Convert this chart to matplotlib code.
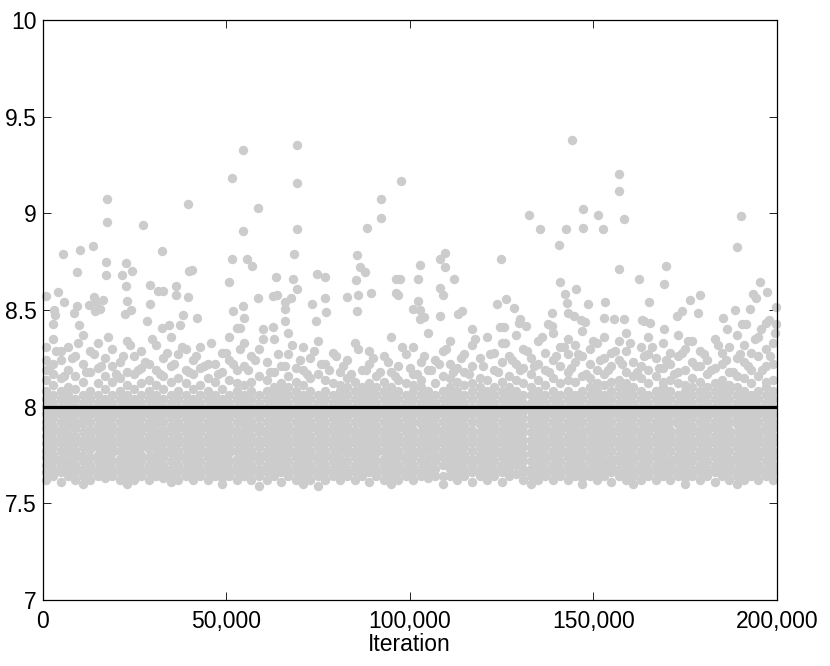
import matplotlib
matplotlib.use("Agg")
import matplotlib.pyplot as plt
from matplotlib.ticker import FuncFormatter

plt.rcParams['font.family'] = ['Liberation Sans', 'DejaVu Sans']

# ---- data (iterations in thousands for the dense columns) ----
col_x_k = [0.9, 2.9, 5.0, 7.0, 8.9, 10.9, 13.0, 15.0, 16.9, 18.9,
           21.0, 23.0, 24.9, 26.9, 29.0, 31.0, 32.9, 34.9, 37.0, 39.0,
           40.9, 42.9, 45.0, 47.0, 48.9, 50.9, 53.0, 55.0, 56.9, 58.9,
           61.0, 63.0, 64.9, 66.9, 69.0, 71.0, 72.9, 74.9, 77.0, 79.0,
           80.9, 82.9, 85.0, 87.0, 88.9, 90.9, 93.0, 95.0, 96.9, 98.9,
           101.0, 103.0, 104.9, 106.9, 109.0, 111.0, 112.9, 114.9, 117.0, 119.0,
           120.9, 122.9, 125.0, 127.0, 128.9, 130.9, 133.0, 135.0, 136.9, 138.9,
           141.0, 143.0, 144.9, 146.9, 149.0, 151.0, 152.9, 154.9, 157.0, 159.0,
           160.9, 162.9, 165.0, 167.0, 168.9, 170.9, 173.0, 175.0, 176.9, 178.9,
           181.0, 183.0, 184.9, 186.9, 189.0, 191.0, 192.9, 194.9, 197.0, 199.0]

col_y = [
    [7.62,7.66,7.70,7.74,7.77,7.81,7.85,7.89,7.92,7.96,8.00,8.04,8.08,8.14,8.19,8.24,8.31],
    [7.64,7.68,7.72,7.75,7.79,7.83,7.87,7.90,7.94,7.98,8.02,8.06,8.11,8.17,8.22,8.35],
    [7.61,7.66,7.70,7.73,7.77,7.81,7.85,7.88,7.92,7.96,8.00,8.04,8.08,8.15,8.24,8.29],
    [7.64,7.68,7.72,7.76,7.79,7.83,7.86,7.90,7.94,7.98,8.02,8.06,8.10,8.19,8.31],
    [7.62,7.66,7.70,7.74,7.77,7.81,7.85,7.89,7.92,7.96,8.00,8.04,8.09,8.16,8.26],
    [7.60,7.64,7.68,7.72,7.75,7.79,7.83,7.87,7.91,7.94,7.98,8.02,8.06,8.13,8.22,8.37],
    [7.62,7.66,7.70,7.74,7.78,7.81,7.85,7.88,7.92,7.96,8.00,8.04,8.08,8.18,8.29],
    [7.64,7.68,7.72,7.75,7.79,7.83,7.87,7.90,7.94,7.98,8.02,8.06,8.12,8.20,8.33],
    [7.63,7.66,7.70,7.74,7.77,7.81,7.85,7.89,7.92,7.96,8.00,8.04,8.09,8.16,8.25],
    [7.64,7.68,7.72,7.76,7.79,7.83,7.87,7.90,7.94,7.98,8.02,8.06,8.13,8.21,8.30],
    [7.62,7.66,7.70,7.73,7.77,7.81,7.85,7.88,7.92,7.96,8.00,8.04,8.08,8.15,8.23],
    [7.60,7.64,7.68,7.72,7.75,7.79,7.83,7.87,7.90,7.94,7.98,8.02,8.06,8.11,8.18,8.34],
    [7.62,7.66,7.70,7.74,7.77,7.81,7.85,7.89,7.92,7.96,8.00,8.04,8.09,8.17,8.26],
    [7.64,7.68,7.72,7.75,7.79,7.83,7.87,7.90,7.94,7.98,8.02,8.06,8.12,8.20,8.29],
    [7.62,7.66,7.70,7.74,7.78,7.81,7.85,7.89,7.92,7.96,8.00,8.04,8.08,8.14,8.22],
    [7.64,7.68,7.72,7.75,7.79,7.83,7.87,7.91,7.94,7.98,8.02,8.06,8.11,8.19,8.32],
    [7.63,7.66,7.70,7.74,7.77,7.81,7.85,7.88,7.92,7.96,8.00,8.04,8.09,8.16,8.25],
    [7.61,7.64,7.68,7.72,7.76,7.79,7.83,7.87,7.90,7.94,7.98,8.02,8.06,8.13,8.21,8.36],
    [7.62,7.66,7.70,7.74,7.77,7.81,7.85,7.89,7.92,7.96,8.00,8.04,8.08,8.15,8.27],
    [7.64,7.68,7.72,7.75,7.79,7.83,7.87,7.90,7.94,7.98,8.02,8.06,8.12,8.19,8.30],
    [7.62,7.66,7.70,7.74,7.77,7.81,7.85,7.88,7.92,7.96,8.00,8.04,8.09,8.17,8.24],
    [7.64,7.68,7.72,7.76,7.79,7.83,7.87,7.90,7.94,7.98,8.02,8.06,8.11,8.20,8.31],
    [7.62,7.66,7.70,7.74,7.77,7.81,7.85,7.89,7.92,7.96,8.00,8.04,8.08,8.15,8.22],
    [7.64,7.68,7.72,7.75,7.79,7.83,7.87,7.90,7.94,7.98,8.02,8.06,8.13,8.22],
    [7.60,7.63,7.66,7.70,7.74,7.77,7.81,7.85,7.89,7.92,7.96,8.00,8.04,8.09,8.18,8.28],
    [7.64,7.68,7.72,7.76,7.79,7.83,7.87,7.90,7.94,7.98,8.02,8.06,8.14,8.24,8.36],
    [7.62,7.66,7.70,7.73,7.77,7.81,7.85,7.88,7.92,7.96,8.00,8.04,8.08,8.12,8.19],
    [7.64,7.68,7.72,7.75,7.79,7.83,7.87,7.91,7.94,7.98,8.02,8.06,8.11,8.21,8.33],
    [7.62,7.66,7.70,7.74,7.77,7.81,7.85,7.89,7.92,7.96,8.00,8.04,8.08,8.13,8.26],
    [7.59,7.64,7.68,7.72,7.75,7.79,7.83,7.87,7.90,7.94,7.98,8.02,8.06,8.16,8.30],
    [7.62,7.66,7.70,7.74,7.77,7.81,7.85,7.88,7.92,7.96,8.00,8.04,8.08,8.14,8.23],
    [7.64,7.68,7.72,7.75,7.79,7.83,7.87,7.90,7.94,7.98,8.02,8.06,8.10,8.18,8.35],
    [7.61,7.66,7.70,7.74,7.77,7.81,7.85,7.89,7.92,7.96,8.00,8.04,8.08,8.12,8.21],
    [7.64,7.68,7.72,7.76,7.79,7.83,7.87,7.90,7.94,7.98,8.02,8.06,8.10,8.16,8.27,8.38],
    [7.62,7.66,7.70,7.74,7.77,7.81,7.85,7.88,7.92,7.96,8.00,8.04,8.08,8.13,8.20],
    [7.60,7.64,7.68,7.72,7.75,7.79,7.83,7.87,7.90,7.94,7.98,8.02,8.06,8.11,8.19,8.31],
    [7.62,7.66,7.70,7.74,7.77,7.81,7.85,7.89,7.92,7.96,8.00,8.04,8.08,8.15,8.25],
    [7.59,7.64,7.68,7.72,7.75,7.79,7.83,7.87,7.90,7.94,7.98,8.02,8.06,8.17,8.34],
    [7.62,7.66,7.70,7.74,7.77,7.81,7.85,7.88,7.92,7.96,8.00,8.04,8.08,8.14,8.22],
    [7.64,7.68,7.72,7.75,7.79,7.83,7.87,7.90,7.94,7.98,8.02,8.06,8.12,8.28],
    [7.62,7.66,7.70,7.73,7.77,7.81,7.85,7.89,7.92,7.96,8.00,8.04,8.08,8.11,8.18],
    [7.64,7.68,7.72,7.76,7.79,7.83,7.87,7.90,7.94,7.98,8.02,8.06,8.10,8.15,8.24],
    [7.62,7.66,7.70,7.74,7.77,7.81,7.85,7.88,7.92,7.96,8.00,8.04,8.08,8.13,8.33],
    [7.64,7.68,7.72,7.75,7.79,7.83,7.87,7.91,7.94,7.98,8.02,8.06,8.10,8.19],
    [7.61,7.66,7.70,7.74,7.77,7.81,7.85,7.89,7.92,7.96,8.00,8.04,8.08,8.12,8.22,8.29],
    [7.64,7.68,7.72,7.76,7.79,7.83,7.87,7.90,7.94,7.98,8.02,8.06,8.10,8.16],
    [7.62,7.66,7.70,7.73,7.77,7.81,7.85,7.88,7.92,7.96,8.00,8.04,8.08,8.13,8.26],
    [7.60,7.64,7.68,7.72,7.75,7.79,7.83,7.87,7.90,7.94,7.98,8.02,8.06,8.10,8.18,8.36],
    [7.62,7.66,7.70,7.74,7.77,7.81,7.85,7.89,7.92,7.96,8.00,8.04,8.08,8.14,8.21],
    [7.64,7.68,7.72,7.75,7.79,7.83,7.87,7.90,7.94,7.98,8.02,8.06,8.12,8.27],
    [7.62,7.66,7.70,7.74,7.77,7.81,7.85,7.88,7.92,7.96,8.00,8.04,8.08,8.11,8.17,8.31],
    [7.64,7.68,7.72,7.76,7.79,7.83,7.87,7.91,7.94,7.98,8.02,8.06,8.10,8.14,8.23],
    [7.63,7.66,7.70,7.73,7.77,7.81,7.85,7.89,7.92,7.96,8.00,8.04,8.08,8.19,8.38],
    [7.64,7.68,7.72,7.75,7.79,7.83,7.87,7.90,7.94,7.98,8.02,8.06,8.12,8.24],
    [7.60,7.64,7.70,7.74,7.77,7.81,7.85,7.88,7.92,7.96,8.00,8.04,8.08,8.16,8.29],
    [7.64,7.68,7.72,7.76,7.79,7.83,7.87,7.90,7.94,7.98,8.02,8.06,8.10,8.15,8.22,8.34],
    [7.62,7.66,7.70,7.74,7.77,7.81,7.85,7.89,7.92,7.96,8.00,8.04,8.08,8.13,8.20],
    [7.64,7.68,7.72,7.75,7.79,7.83,7.87,7.90,7.94,7.98,8.02,8.06,8.11,8.18,8.27],
    [7.61,7.66,7.70,7.73,7.77,7.81,7.85,7.88,7.92,7.96,8.00,8.04,8.08,8.12,8.21,8.32],
    [7.64,7.68,7.72,7.75,7.79,7.83,7.87,7.91,7.94,7.98,8.02,8.06,8.10,8.15,8.25],
    [7.62,7.66,7.70,7.74,7.77,7.81,7.85,7.89,7.92,7.96,8.00,8.04,8.08,8.14,8.36],
    [7.64,7.68,7.72,7.76,7.79,7.83,7.87,7.90,7.94,7.98,8.02,8.06,8.10,8.19,8.28],
    [7.61,7.66,7.70,7.74,7.77,7.81,7.85,7.88,7.92,7.96,8.00,8.04,8.08,8.13,8.23,8.33],
    [7.64,7.68,7.72,7.75,7.79,7.83,7.87,7.90,7.94,7.98,8.02,8.06,8.10,8.16,8.26],
    [7.65,7.70,7.74,7.77,7.81,7.85,7.89,7.92,7.96,8.00,8.04,8.08,8.14,8.22,8.37],
    [7.62,7.66,7.68,7.72,7.75,7.79,7.83,7.87,7.90,7.94,7.98,8.02,8.06,8.12,8.20,8.30],
    [7.60,7.64,7.68,7.72,7.76,7.79,7.83,7.87,7.91,7.94,7.98,8.02,8.06,8.10,8.17,8.25],
    [7.62,7.66,7.70,7.74,7.77,7.81,7.85,7.89,7.92,7.96,8.00,8.04,8.08,8.14,8.22,8.34],
    [7.64,7.68,7.72,7.75,7.79,7.83,7.87,7.90,7.94,7.98,8.02,8.06,8.11,8.19,8.28],
    [7.62,7.66,7.70,7.74,7.77,7.81,7.85,7.88,7.92,7.96,8.00,8.04,8.08,8.15,8.24,8.38],
    [7.64,7.68,7.72,7.76,7.79,7.83,7.87,7.90,7.94,7.98,8.02,8.06,8.12,8.21,8.31],
    [7.62,7.66,7.70,7.74,7.77,7.81,7.85,7.89,7.92,7.96,8.00,8.04,8.08,8.14,8.18,8.27,8.35],
    [7.64,7.68,7.72,7.75,7.79,7.83,7.87,7.91,7.94,7.98,8.02,8.06,8.13,8.23,8.32],
    [7.60,7.63,7.66,7.70,7.74,7.77,7.81,7.85,7.88,7.92,7.96,8.00,8.04,8.08,8.16,8.26,8.39],
    [7.64,7.68,7.72,7.75,7.79,7.83,7.87,7.90,7.94,7.98,8.02,8.06,8.10,8.15,8.22,8.30],
    [7.62,7.66,7.70,7.74,7.77,7.81,7.85,7.89,7.92,7.96,8.00,8.04,8.08,8.12,8.19,8.33],
    [7.64,7.68,7.72,7.76,7.79,7.83,7.87,7.90,7.94,7.98,8.02,8.06,8.11,8.17,8.25,8.36],
    [7.61,7.66,7.70,7.73,7.77,7.81,7.85,7.88,7.92,7.96,8.00,8.04,8.08,8.13,8.21,8.28],
    [7.64,7.68,7.72,7.75,7.79,7.83,7.87,7.90,7.94,7.98,8.02,8.06,8.10,8.14,8.24,8.34],
    [7.62,7.66,7.70,7.74,7.77,7.81,7.85,7.89,7.92,7.96,8.00,8.04,8.08,8.12,8.18,8.29,8.38],
    [7.60,7.64,7.68,7.72,7.75,7.79,7.83,7.87,7.90,7.94,7.98,8.02,8.06,8.10,8.16,8.23],
    [7.62,7.66,7.70,7.74,7.77,7.81,7.85,7.88,7.92,7.96,8.00,8.04,8.08,8.15,8.21,8.31],
    [7.64,7.68,7.72,7.75,7.79,7.83,7.87,7.90,7.94,7.98,8.02,8.06,8.12,8.19,8.27,8.36],
    [7.62,7.66,7.70,7.74,7.77,7.81,7.85,7.89,7.92,7.96,8.00,8.04,8.08,8.16,8.25],
    [7.64,7.68,7.72,7.76,7.79,7.83,7.87,7.90,7.94,7.98,8.02,8.06,8.10,8.13,8.20,8.33],
    [7.62,7.66,7.70,7.73,7.77,7.81,7.85,7.88,7.92,7.96,8.00,8.04,8.08,8.14,8.22,8.28],
    [7.64,7.68,7.72,7.75,7.79,7.83,7.87,7.91,7.94,7.98,8.02,8.06,8.12,8.18,8.26,8.37],
    [7.60,7.63,7.66,7.70,7.74,7.77,7.81,7.85,7.89,7.92,7.96,8.00,8.04,8.08,8.11,8.19,8.30],
    [7.64,7.68,7.72,7.75,7.79,7.83,7.87,7.90,7.94,7.98,8.02,8.06,8.10,8.15,8.23,8.34],
    [7.62,7.66,7.70,7.74,7.77,7.81,7.85,7.88,7.92,7.96,8.00,8.04,8.08,8.13,8.21,8.29],
    [7.64,7.68,7.72,7.76,7.79,7.83,7.87,7.90,7.94,7.98,8.02,8.06,8.10,8.17,8.24],
    [7.61,7.66,7.70,7.74,7.77,7.81,7.85,7.89,7.92,7.96,8.00,8.04,8.08,8.12,8.20,8.35],
    [7.64,7.68,7.72,7.75,7.79,7.83,7.87,7.90,7.94,7.98,8.02,8.06,8.10,8.14,8.22,8.28],
    [7.62,7.66,7.70,7.73,7.77,7.81,7.85,7.88,7.92,7.96,8.00,8.04,8.08,8.11,8.18,8.31],
    [7.60,7.64,7.68,7.72,7.75,7.79,7.83,7.87,7.91,7.94,7.98,8.02,8.06,8.10,8.16,8.25,8.37],
    [7.62,7.66,7.70,7.74,7.77,7.81,7.85,7.89,7.92,7.96,8.00,8.04,8.08,8.15,8.23,8.32],
    [7.64,7.68,7.72,7.75,7.79,7.83,7.87,7.90,7.94,7.98,8.02,8.06,8.12,8.19,8.28],
    [7.62,7.66,7.70,7.74,7.77,7.81,7.85,7.88,7.92,7.96,8.00,8.04,8.08,8.16,8.26,8.36],
    [7.64,7.68,7.72,7.76,7.79,7.83,7.87,7.90,7.94,7.98,8.02,8.06,8.10,8.13,8.21,8.30],
    [7.62,7.66,7.70,7.74,7.77,7.81,7.85,7.89,7.92,7.96,8.00,8.04,8.08,8.14,8.22,8.33],
]

# extra scattered samples just above the target (iteration in thousands, value)
mid_x_k = [1.9, 3.8, 5.9, 8.0, 9.8, 11.9, 14.0, 15.9, 17.9, 19.9,
           22.0, 23.9, 25.9, 28.0, 29.9, 31.9, 34.0, 35.9, 37.9, 40.0,
           41.9, 44.0, 46.0, 47.9, 49.9, 52.0, 53.9, 56.0, 57.9, 60.0,
           61.9, 64.0, 65.9, 68.0, 70.0, 71.9, 74.0, 75.9, 78.0, 80.0,
           81.9, 84.0, 85.9, 88.0, 89.9, 92.0, 94.0, 95.9, 98.0, 100.0,
           101.9, 104.0, 105.9, 108.0, 110.0, 111.9, 114.0, 116.0, 117.9, 120.0,
           121.9, 124.0, 126.0, 127.9, 130.0, 132.0, 133.9, 136.0, 138.0, 139.9,
           142.0, 144.0, 145.9, 148.0, 150.0, 151.9, 154.0, 156.0, 157.9, 160.0,
           162.0, 163.9, 166.0, 168.0, 169.9, 172.0, 174.0, 175.9, 178.0, 180.0,
           181.9, 184.0, 186.0, 187.9, 190.0, 192.0, 193.9, 196.0, 198.0, 199.5]
mid_val = [8.20, 8.29, 8.16, 8.25, 8.33, 8.18, 8.27, 8.21, 8.36, 8.17,
           8.26, 8.32, 8.19, 8.23, 8.35, 8.17, 8.28, 8.22, 8.31, 8.18,
           8.26, 8.21, 8.33, 8.17, 8.28, 8.22, 8.30, 8.19, 8.24, 8.35,
           8.18, 8.27, 8.21, 8.32, 8.24, 8.17, 8.29, 8.22, 8.19, 8.26,
           8.21, 8.17, 8.30, 8.19, 8.25, 8.18, 8.23, 8.16, 8.31, 8.20,
           8.17, 8.26, 8.19, 8.22, 8.30, 8.18, 8.25, 8.17, 8.35, 8.21,
           8.27, 8.18, 8.33, 8.24, 8.19, 8.29, 8.21, 8.36, 8.18, 8.26,
           8.31, 8.20, 8.27, 8.17, 8.34, 8.24, 8.19, 8.29, 8.22, 8.33,
           8.18, 8.26, 8.31, 8.20, 8.24, 8.17, 8.28, 8.34, 8.21, 8.27,
           8.19, 8.32, 8.24, 8.18, 8.27, 8.21, 8.35, 8.19, 8.26, 8.38]

# sparse high samples (iteration, value)
high_iter = [17660, 39650, 17660, 27300, 13680, 10300, 32560, 5590, 17220, 22750,
             9490, 17220, 21660, 24300, 39840, 950, 4220, 5860, 9490, 8500,
             12590, 14120, 14580, 16570, 14390, 15670, 22840, 22940, 22570, 24040,
             29290, 29290, 31560, 32920, 36300, 36460, 39650, 38290, 28560, 3130,
             3490, 2940, 10030, 34550, 37470, 32650,
             54720, 69270, 51720, 69270, 58810, 54720, 69430, 68450, 51640, 55640,
             57000, 40740, 50820, 63630, 68260, 74720, 76980, 69430, 58720, 62890,
             63800, 67800, 66000, 66080, 73360, 76980, 77070, 54720, 54900, 51910,
             42100, 66160, 74450, 52920, 53820, 60170, 62890,
             97690, 92160, 92160, 88430, 85700, 86520, 87690, 85430, 82890, 85790,
             89430, 85620, 96140, 97230, 96140, 96870, 102870, 102240, 109490, 108240,
             109600, 111950, 108240, 108950, 102240, 100880, 102680, 102680, 103960, 108320,
             113030, 114120, 116960,
             144290, 157000, 157000, 147100, 132570, 151370, 158450, 135570, 142460, 147200,
             152550, 140750, 124860, 157000, 162550, 141020, 145300, 142380, 123770, 126120,
             128480, 142830, 148450, 153090, 138840, 143010, 144830, 146660, 147830, 152820,
             155730, 158450, 129930, 129660, 131750, 125570, 124670, 137560, 138750, 163280,
             190150, 189170, 169710, 169270, 195240, 193420, 194150, 197230, 199600, 178980,
             176360, 165260, 174070, 172710, 178540, 188520, 192710, 185350, 163830, 165350,
             190530, 191430, 197780, 197070, 199600, 186250, 195510, 169360]
high_val = [9.073, 9.046, 8.954, 8.942, 8.831, 8.811, 8.807, 8.790, 8.750, 8.743,
            8.697, 8.680, 8.683, 8.700, 8.704, 8.572, 8.595, 8.541, 8.521, 8.484,
            8.528, 8.567, 8.541, 8.550, 8.497, 8.504, 8.623, 8.547, 8.481, 8.498,
            8.628, 8.529, 8.597, 8.600, 8.624, 8.578, 8.569, 8.474, 8.443, 8.498,
            8.473, 8.430, 8.424, 8.421, 8.421, 8.405,
            9.328, 9.356, 9.185, 9.156, 9.026, 8.911, 8.921, 8.788, 8.766, 8.764,
            8.726, 8.709, 8.643, 8.671, 8.661, 8.685, 8.671, 8.607, 8.561, 8.571,
            8.580, 8.563, 8.541, 8.507, 8.529, 8.562, 8.492, 8.521, 8.459, 8.493,
            8.461, 8.441, 8.443, 8.409, 8.409, 8.400, 8.412,
            9.166, 9.073, 8.978, 8.923, 8.783, 8.721, 8.697, 8.654, 8.566, 8.578,
            8.590, 8.493, 8.658, 8.658, 8.588, 8.576, 8.732, 8.658, 8.797, 8.766,
            8.723, 8.658, 8.616, 8.576, 8.549, 8.507, 8.502, 8.452, 8.464, 8.467,
            8.479, 8.495, 8.400,
            9.378, 9.201, 9.116, 9.023, 8.989, 8.989, 8.971, 8.918, 8.918, 8.923,
            8.918, 8.835, 8.764, 8.711, 8.659, 8.645, 8.609, 8.583, 8.529, 8.559,
            8.512, 8.536, 8.531, 8.543, 8.484, 8.487, 8.471, 8.447, 8.438, 8.461,
            8.452, 8.453, 8.456, 8.431, 8.419, 8.412, 8.412, 8.430, 8.419, 8.447,
            8.985, 8.826, 8.726, 8.637, 8.643, 8.583, 8.562, 8.592, 8.516, 8.576,
            8.554, 8.540, 8.495, 8.469, 8.483, 8.498, 8.504, 8.461, 8.443, 8.435,
            8.430, 8.426, 8.447, 8.433, 8.430, 8.404, 8.404, 8.400]

target_x = [0, 200000]
target_y = [8, 8]

x_ticks = [0, 50000, 100000, 150000, 200000]
y_ticks = [7, 7.5, 8, 8.5, 9, 9.5, 10]
x_label = "Iteration"

# ---- assemble points ----
xs, ys = [], []
for xk, col in zip(col_x_k, col_y):
    for v in col:
        xs.append(xk * 1000)
        ys.append(v)
xs += [k * 1000 for k in mid_x_k]
ys += mid_val
xs += high_iter
ys += high_val

fig = plt.figure(figsize=(8.3, 6.66), dpi=100)
ax = fig.add_axes([42.5 / 830, 1 - 600 / 666, (777 - 42.5) / 830, 580 / 666])

ax.scatter(xs, ys, s=46, c='#cccccc', linewidths=0, zorder=2, clip_on=False)
ax.plot(target_x, target_y, color='black', lw=2.3, zorder=3, solid_capstyle='butt')

ax.set_xlim(0, 200000)
ax.set_ylim(7, 10)
ax.set_xticks(x_ticks)
ax.set_yticks(y_ticks)
ax.xaxis.set_major_formatter(FuncFormatter(lambda v, p: f"{int(v):,}"))
ax.yaxis.set_major_formatter(FuncFormatter(lambda v, p: f"{v:g}"))
ax.tick_params(direction='in', length=6, width=0.6, top=True, right=True,
               labelsize=16.5, colors='black')
ax.tick_params(axis='x', pad=7)
ax.tick_params(axis='y', pad=4)
for s in ax.spines.values():
    s.set_linewidth(0.9)
    s.set_zorder(4)
ax.set_xlabel(x_label, fontsize=16.5, labelpad=0)

fig.savefig("out.png", dpi=100)
